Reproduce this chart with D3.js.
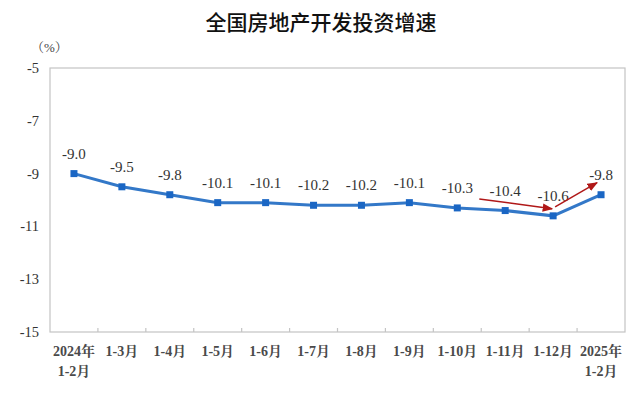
<!DOCTYPE html>
<html>
<head>
<meta charset="utf-8">
<script src="https://cdn.jsdelivr.net/npm/d3@7"></script>
<style>
  body { margin: 0; background: #fff; }
  svg { display: block; }
</style>
</head>
<body>
<div id="chart"></div>
<script>
// data
var months = ['2024年\n1-2月', '1-3月', '1-4月', '1-5月', '1-6月', '1-7月', '1-8月', '1-9月', '1-10月', '1-11月', '1-12月', '2025年\n1-2月'];
var growth = [-9.0, -9.5, -9.8, -10.1, -10.1, -10.2, -10.2, -10.1, -10.3, -10.4, -10.6, -9.8];
var yTicks = [-5, -7, -9, -11, -13, -15];

var W = 640, H = 399;
var m = {left: 50, right: 15, top: 68, bottom: 67};

var svg = d3.select('#chart').append('svg')
  .attr('width', W)
  .attr('height', H);

var x = d3.scaleBand().domain(months).range([m.left, W - m.right]);
var y = d3.scaleLinear().domain([-15, -5]).range([H - m.bottom, m.top]);

var serif = '"Liberation Serif", "Times New Roman", "Noto Serif CJK SC", serif';

// title
svg.append('text')
  .attr('x', 321).attr('y', 30)
  .attr('text-anchor', 'middle')
  .style('font-family', '"Noto Sans CJK SC", sans-serif')
  .style('font-size', '21px')
  .style('font-weight', 500)
  .style('fill', '#111')
  .text('全国房地产开发投资增速');

// unit
svg.append('text')
  .attr('x', 31).attr('y', 52)
  .style('font-family', serif)
  .style('font-size', '13px')
  .style('fill', '#444')
  .text('（%）');

// frame
svg.append('rect')
  .attr('x', m.left).attr('y', m.top)
  .attr('width', W - m.left - m.right)
  .attr('height', H - m.top - m.bottom)
  .attr('fill', 'none')
  .attr('stroke', '#c4c4c4')
  .attr('stroke-width', 1.2);

// y axis labels
svg.append('g').selectAll('text')
  .data(yTicks).enter().append('text')
  .attr('x', m.left - 11)
  .attr('y', function(d) { return y(d) + 5; })
  .attr('text-anchor', 'end')
  .style('font-family', serif)
  .style('font-size', '14.5px')
  .style('fill', '#333')
  .text(function(d) { return d; });

// x tick marks at band edges
svg.append('g').selectAll('line')
  .data(months.slice(1)).enter().append('line')
  .attr('x1', function(d) { return x(d); })
  .attr('x2', function(d) { return x(d); })
  .attr('y1', y(-15))
  .attr('y2', y(-15) - 4)
  .attr('stroke', '#c4c4c4')
  .attr('stroke-width', 1.2);

// x labels
var xl = svg.append('g').selectAll('text')
  .data(months).enter().append('text')
  .attr('text-anchor', 'middle')
  .attr('transform', function(d) { return 'translate(' + (x(d) + x.bandwidth() / 2) + ',' + (y(-15) + 24) + ')'; })
  .style('font-family', serif)
  .style('font-size', '14px')
  .style('font-weight', 'bold')
  .style('fill', '#4a4a4a');
xl.selectAll('tspan')
  .data(function(d) { return d.split('\n'); })
  .enter().append('tspan')
  .attr('x', 0)
  .attr('dy', function(d, i) { return i ? 20 : 0; })
  .text(function(d) { return d; });

var pts = months.map(function(d, i) { return {m: d, v: growth[i]}; });
var cx = function(d) { return x(d.m) + x.bandwidth() / 2; };

// line
svg.append('path')
  .datum(pts)
  .attr('fill', 'none')
  .attr('stroke', '#3378c8')
  .attr('stroke-width', 3)
  .attr('d', d3.line().x(cx).y(function(d) { return y(d.v); }));

// markers
svg.append('g').selectAll('rect')
  .data(pts).enter().append('rect')
  .attr('x', function(d) { return cx(d) - 3.5; })
  .attr('y', function(d) { return y(d.v) - 3.5; })
  .attr('width', 7).attr('height', 7)
  .attr('fill', '#1a66c4');

// value labels
svg.append('g').selectAll('text')
  .data(pts).enter().append('text')
  .attr('x', cx)
  .attr('y', function(d) { return y(d.v) - 15; })
  .attr('text-anchor', 'middle')
  .style('font-family', serif)
  .style('font-size', '15px')
  .style('fill', '#333')
  .text(function(d) { return d3.format('.1f')(d.v).replace('−', '-'); });

// red trend arrows
svg.append('defs').append('marker')
  .attr('id', 'ah')
  .attr('viewBox', '0 0 10 10')
  .attr('refX', 9).attr('refY', 5)
  .attr('markerWidth', 7).attr('markerHeight', 7)
  .attr('orient', 'auto')
  .append('path').attr('d', 'M0,1 L10,5 L0,9 Z').attr('fill', '#b01818');

var p10 = pts[8], p12 = pts[10], p13 = pts[11];
svg.append('line')
  .attr('x1', cx(p10) + 22).attr('y1', y(p10.v) - 9)
  .attr('x2', cx(p12) - 1).attr('y2', y(p12.v) - 7)
  .attr('stroke', '#b01818').attr('stroke-width', 1.5)
  .attr('marker-end', 'url(#ah)');
svg.append('line')
  .attr('x1', cx(p12) + 2).attr('y1', y(p12.v) - 9)
  .attr('x2', cx(p13) - 4).attr('y2', y(p13.v) - 12)
  .attr('stroke', '#b01818').attr('stroke-width', 1.5)
  .attr('marker-end', 'url(#ah)');
</script>
</body>
</html>
